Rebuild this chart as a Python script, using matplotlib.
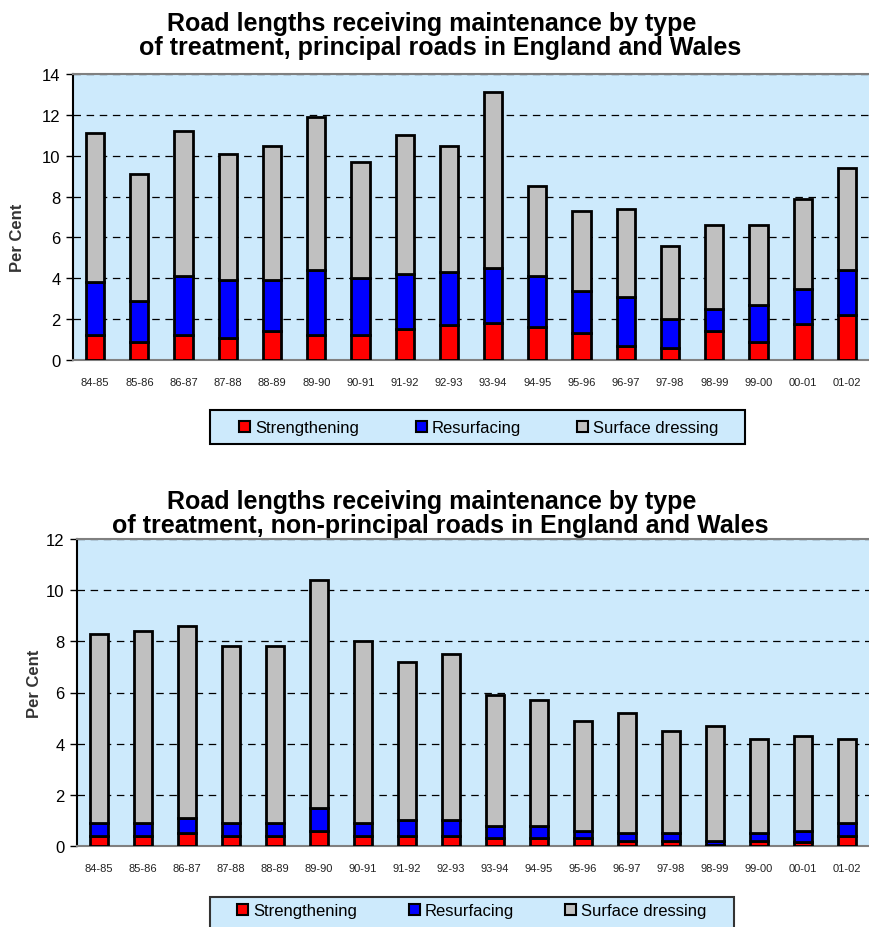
import matplotlib
matplotlib.use('Agg')
import matplotlib.pyplot as plt
from matplotlib.patches import Patch, Rectangle
import numpy as np

plt.rcParams['font.family'] = ['Liberation Sans', 'DejaVu Sans']

years = ['84-85', '85-86', '86-87', '87-88', '88-89', '89-90', '90-91', '91-92', '92-93',
         '93-94', '94-95', '95-96', '96-97', '97-98', '98-99', '99-00', '00-01', '01-02']

# principal roads (per cent of road length)
p_strengthening = [1.2, 0.9, 1.2, 1.1, 1.4, 1.2, 1.2, 1.5, 1.7, 1.8, 1.6, 1.3, 0.7, 0.6, 1.4, 0.9, 1.75, 2.2]
p_resurfacing = [2.6, 2.0, 2.9, 2.8, 2.5, 3.2, 2.8, 2.7, 2.6, 2.7, 2.5, 2.1, 2.4, 1.4, 1.1, 1.8, 1.75, 2.2]
p_surface_dressing = [7.3, 6.2, 7.1, 6.2, 6.6, 7.5, 5.7, 6.8, 6.2, 8.6, 4.4, 3.9, 4.3, 3.6, 4.1, 3.9, 4.4, 5.0]

# non-principal roads
n_strengthening = [0.4, 0.4, 0.5, 0.4, 0.4, 0.6, 0.4, 0.4, 0.4, 0.3, 0.3, 0.3, 0.2, 0.2, 0.05, 0.2, 0.15, 0.4]
n_resurfacing = [0.5, 0.5, 0.6, 0.5, 0.5, 0.9, 0.5, 0.6, 0.6, 0.5, 0.5, 0.3, 0.3, 0.3, 0.15, 0.3, 0.45, 0.5]
n_surface_dressing = [7.4, 7.5, 7.5, 6.9, 6.9, 8.9, 7.1, 6.2, 6.5, 5.1, 4.9, 4.3, 4.7, 4.0, 4.5, 3.7, 3.7, 3.3]

labels = ['Strengthening', 'Resurfacing', 'Surface dressing']
colors = ['#ff0000', '#0000ff', '#c0c0c0']
bg = '#cdeafc'

W, H = 869, 928
fig = plt.figure(figsize=(W / 100, H / 100), dpi=100)


def fx(px):
    return px / W


def fy(px):
    return 1 - px / H


def draw_panel(ax, s, r, d, ymax):
    x = np.arange(len(years))
    s = np.array(s)
    r = np.array(r)
    d = np.array(d)
    ax.bar(x, s, 0.41, color=colors[0], edgecolor='black', lw=2, zorder=3)
    ax.bar(x, r, 0.41, bottom=s, color=colors[1], edgecolor='black', lw=2, zorder=3)
    ax.bar(x, d, 0.41, bottom=s + r, color=colors[2], edgecolor='black', lw=2, zorder=3)
    ax.set_xlim(-0.5, len(years) - 0.5)
    ax.set_ylim(0, ymax)
    ax.set_yticks(range(0, ymax + 1, 2))
    ax.set_xticks(x)
    ax.set_xticklabels(years)
    ax.set_facecolor(bg)
    ax.yaxis.grid(True, linestyle=(0, (6, 4.5)), color='black', lw=0.9)
    ax.set_axisbelow(True)
    ax.spines['right'].set_visible(False)
    ax.spines['left'].set_color('black')
    ax.spines['left'].set_linewidth(1.5)
    ax.spines['bottom'].set_color('#808080')
    ax.spines['bottom'].set_linewidth(1.5)
    ax.spines['top'].set_color('#808080')
    ax.spines['top'].set_linewidth(1.5)
    ax.tick_params(axis='y', direction='out', length=5, width=1, labelsize=12, pad=4)
    ax.tick_params(axis='x', length=0, labelsize=8, pad=12, colors='#222222')
    ax.set_ylabel('Per Cent', fontsize=12, fontweight='bold', color='#333333')


# top chart
ax1 = fig.add_axes([fx(73), 1 - 361 / H, 796 / W, 286 / H])
draw_panel(ax1, p_strengthening, p_resurfacing, p_surface_dressing, 14)
ax1.yaxis.set_label_coords((25 - 73) / 796, 0.43)

# bottom chart
ax2 = fig.add_axes([fx(77), 1 - 847 / H, 792 / W, 307 / H])
draw_panel(ax2, n_strengthening, n_resurfacing, n_surface_dressing, 12)
ax2.yaxis.set_label_coords((42 - 77) / 792, 0.53)

# titles
fig.text(fx(432), fy(31), 'Road lengths receiving maintenance by type',
         ha='center', va='baseline', fontsize=18, fontweight='bold')
fig.text(fx(440), fy(55), 'of treatment, principal roads in England and Wales',
         ha='center', va='baseline', fontsize=18, fontweight='bold')
fig.text(fx(432), fy(509), 'Road lengths receiving maintenance by type',
         ha='center', va='baseline', fontsize=18, fontweight='bold')
fig.text(fx(440), fy(533), 'of treatment, non-principal roads in England and Wales',
         ha='center', va='baseline', fontsize=18, fontweight='bold')

# legends
handles = [Patch(facecolor=c, edgecolor='black', lw=1.5) for c in colors]

fig.patches.append(Rectangle((fx(210), fy(445)), 535 / W, 34 / H, transform=fig.transFigure,
                             facecolor=bg, edgecolor='black', lw=1.5, zorder=0))
fig.legend(handles, labels, loc='center left', bbox_to_anchor=(fx(239), fy(429)),
           ncol=3, frameon=False, fontsize=12, handlelength=0.66, handleheight=0.66,
           handletextpad=0.3, columnspacing=3.4, borderpad=0, borderaxespad=0)

fig.patches.append(Rectangle((fx(210), fy(932)), 524 / W, 34 / H, transform=fig.transFigure,
                             facecolor=bg, edgecolor='#333333', lw=1.5, zorder=0))
fig.legend(handles, labels, loc='center left', bbox_to_anchor=(fx(237), fy(912)),
           ncol=3, frameon=False, fontsize=12, handlelength=0.66, handleheight=0.66,
           handletextpad=0.3, columnspacing=3.1, borderpad=0, borderaxespad=0)

fig.savefig('out.png', dpi=100)
